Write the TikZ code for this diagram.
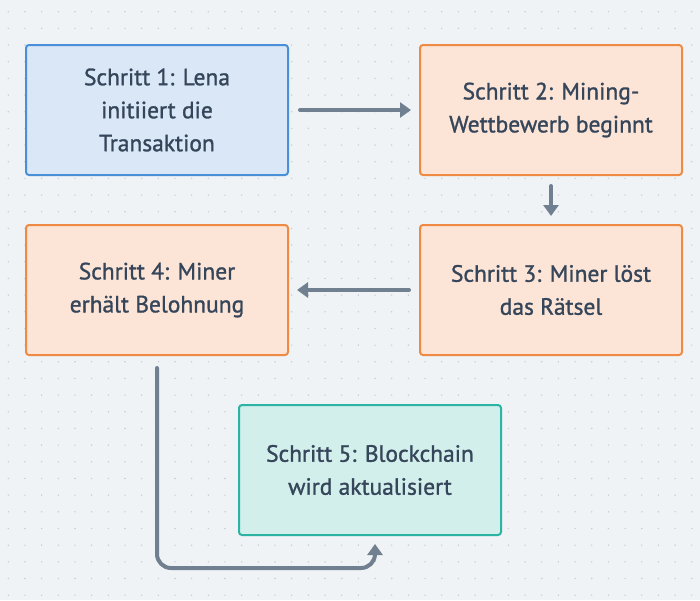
\documentclass[tikz,border=0pt]{standalone}
\usepackage{fontspec}
\setmainfont{PT Sans}[RawFeature={embolden=1.2}]
\usetikzlibrary{arrows.meta}
\definecolor{bg}{HTML}{F0F3F6}
\definecolor{dotc}{HTML}{C5CCD3}
\definecolor{txt}{HTML}{36465A}
\definecolor{bluefill}{HTML}{D9E7F7}
\definecolor{blueline}{HTML}{4A90D9}
\definecolor{orfill}{HTML}{FCE5D7}
\definecolor{orline}{HTML}{EF8A45}
\definecolor{tefill}{HTML}{D3EFEC}
\definecolor{teline}{HTML}{2BB3A3}
\definecolor{arr}{HTML}{708090}
\tikzset{
  stepbox/.style={draw, line width=2pt, rounded corners=3pt, minimum width=262pt, minimum height=130pt,
    align=center, text=txt, font=\fontsize{23.5}{33}\selectfont, inner sep=0pt},
  bluebox/.style={stepbox, fill=bluefill, draw=blueline},
  orbox/.style={stepbox, fill=orfill, draw=orline},
  tebox/.style={stepbox, fill=tefill, draw=teline},
  conn/.style={draw=arr, line width=4pt, line cap=round, -{Triangle[length=11pt,width=15pt]}}
}
\begin{document}
\begin{tikzpicture}[x=1pt,y=-1pt]
\fill[bg] (0,0) rectangle (700,600);
\useasboundingbox (0,0) rectangle (700,600);
\foreach \i in {0,...,41} {
  \foreach \j in {0,...,35} {
    \fill[dotc] (8.3+16.67*\i, 11.7+16.67*\j) circle (0.8);
  }
}
\node[bluebox] (s1) at (157,110) {Schritt 1: Lena\\initiiert die\\Transaktion};
\node[orbox] (s2) at (551,110) {Schritt 2: Mining-\\Wettbewerb beginnt};
\node[orbox] (s3) at (551,290) {Schritt 3: Miner löst\\das Rätsel};
\node[orbox] (s4) at (157,290) {Schritt 4: Miner\\erhält Belohnung};
\node[tebox] (s5) at (370,470) {Schritt 5: Blockchain\\wird aktualisiert};
\coordinate (a1s) at (300,110);
\coordinate (a1e) at (411,110);
\draw[conn] (a1s) -- (a1e);
\coordinate (a2s) at (551,186);
\coordinate (a2e) at (551,216);
\draw[conn] (a2s) -- (a2e);
\coordinate (a3s) at (409,290);
\coordinate (a3e) at (297,290);
\draw[conn] (a3s) -- (a3e);
\coordinate (a4s) at (157,368);
\coordinate (a4c) at (157,568);
\coordinate (a4d) at (375,568);
\coordinate (a4e) at (375,544);
\draw[conn, rounded corners=14pt] (a4s) -- (a4c) -- (a4d) -- (a4e);
\end{tikzpicture}
\end{document}
